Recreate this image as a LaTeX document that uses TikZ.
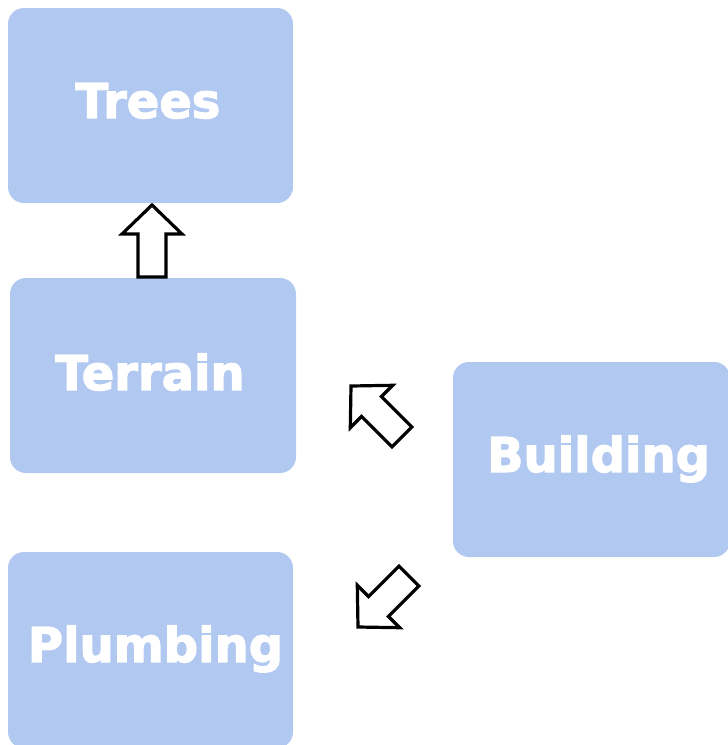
\documentclass[tikz,border=0pt]{standalone}
\usepackage{fontspec}
\newfontfamily\boxfont[BoldFeatures={FakeBold=2.5}]{DejaVu Sans}
\definecolor{boxblue}{HTML}{B1C8F1}
\begin{document}
\begin{tikzpicture}[x=1pt,y=-1pt,
  boxshape/.style={fill=boxblue, draw=none, rounded corners=16pt},
  boxtext/.style={anchor=base, text=white, inner sep=0pt, font=\boxfont\bfseries\fontsize{48}{56}\selectfont},
  blockarrow/.style={draw=black, fill=white, line width=3.2pt, line join=miter}]
\useasboundingbox (0,0) rectangle (728,745);
% boxes
\draw[boxshape] (8,8) rectangle (293,203);
\draw[boxshape] (10,278) rectangle (296,473);
\draw[boxshape] (453,362) rectangle (730,557);
\draw[boxshape] (8,552) rectangle (293,748);
% labels
\node[boxtext] (trees) at (148,118) {Trees};
\node[boxtext] (terrain) at (150,390) {Terrain};
\node[boxtext] (building) at (598.5,472) {Building};
\node[boxtext] (plumbing) at (155.5,662) {Plumbing};
% block arrows
\draw[blockarrow] (152,205) -- (182,234) -- (166,234) -- (166,277) -- (138,277) -- (138,234) -- (122,234) -- cycle;
\draw[blockarrow] (351,386) -- (392.7,385.3) -- (381.4,396.6) -- (411.8,427) -- (392,446.8) -- (361.6,416.4) -- (350.3,427.7) -- cycle;
\draw[blockarrow] (358,627) -- (399.7,627.7) -- (388.4,616.4) -- (418.8,586) -- (399,566.2) -- (368.6,596.6) -- (357.3,585.3) -- cycle;
\end{tikzpicture}
\end{document}
